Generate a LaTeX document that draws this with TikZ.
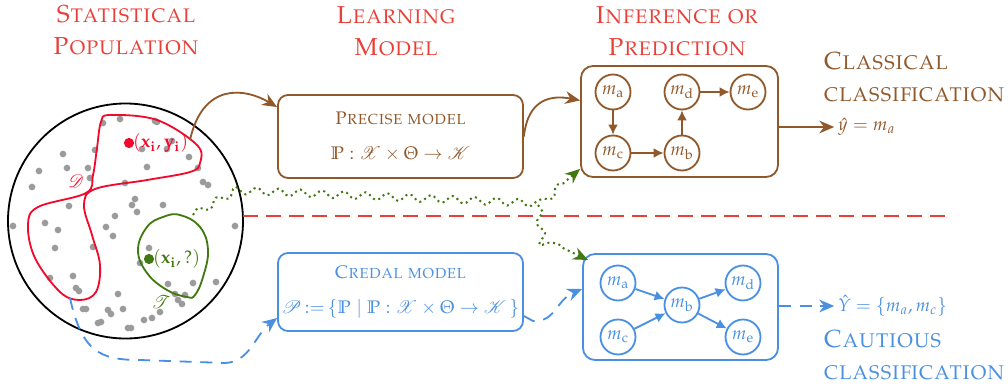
\documentclass[tikz,border=0pt]{standalone}
\usepackage[T1]{fontenc}
\usepackage{mathpazo}
\usepackage{mathrsfs}
\usepackage{xcolor}
\usetikzlibrary{arrows.meta, decorations.pathmorphing}
\definecolor{headred}{RGB}{232,64,56}
\definecolor{setred}{RGB}{242,10,45}
\definecolor{brownc}{RGB}{145,88,42}
\definecolor{bluec}{RGB}{74,144,226}
\definecolor{greenc}{RGB}{66,120,16}
\definecolor{dotgray}{RGB}{155,155,155}
\newcommand\pxu{0.55pt}
\tikzset{
  head/.style={text=headred, font=\fontsize{13.5}{17.6}\selectfont\scshape, align=center},
  outlbl/.style={font=\fontsize{13.6}{17.6}\selectfont\scshape, align=left, anchor=west},
  modelbox/.style={rectangle, rounded corners=5.5pt, line width=1pt, align=center, minimum width=245*\pxu},
  infbox/.style={rectangle, rounded corners=6.6pt, line width=1pt},
  mnode/.style={circle, line width=1pt, minimum size=35*\pxu, inner sep=0pt},
  marrow/.style={-{Latex[length=5.5pt, width=5.5pt]}, line width=1pt},
  bigtip/.style={-{Stealth[length=8.2pt, width=7pt]}, line width=1pt},
  sepline/.style={headred, line width=0.9pt, dash pattern=on 8.2pt off 4.4pt},
  bldash/.style={bluec, line width=1pt, dash pattern=on 6.6pt off 4.8pt},
  greenwave/.style={greenc, line width=1.1pt, dotted, decorate, decoration={snake, amplitude=2pt, segment length=12pt, post length=10pt}},
}
\begin{document}
\begin{tikzpicture}[x=\pxu, y=-\pxu]
  \useasboundingbox (0,0) rectangle (1008,390);
  % headings
  \node[head] (pop) at (126,30) {Statistical\\Population};
  \node[head] (learn) at (396,31) {Learning\\Model};
  \node[head] (infer) at (677,31) {Inference or\\Prediction};
  \node[outlbl, text=brownc] (classic) at (817,77) {Classical\\classification};
  \node[outlbl, text=bluec] (cautious) at (817,355) {Cautious\\classification};
  % population
  \node[circle, draw, line width=1pt, minimum size=235*\pxu, inner sep=0pt] (popc) at (125.5,221) {};
  \foreach \p in {(103,123),(120,119),(155,121),(157,122),(95,150),(63,154),(39,171),(67,168),
    (88,168),(90,178),(32,187),(125,183),(135,199),(132,205),(137,212),(163,205),(147,167),
    (142,149),(167,149),(172,141),(189,157),(198,168),(203,182),(208,185),(69,206),(115,216),
    (13,226),(45,223),(58,230),(106,227),(113,236),(235,226),(55,248),(93,247),(149,248),
    (140,263),(50,278),(73,276),(76,288),(79,291),(168,284),(193,283),(216,282),(118,294),
    (175,294),(185,295),(178,300),(182,304),(160,312),(83,309),(86,309),(108,310),(111,314),
    (123,309),(98,323),(101,322),(128,328),(131,328),(144,320),(152,318)}
    \fill[dotgray] \p circle (1.85pt);
  \draw[setred, line width=1pt] plot[smooth cycle, tension=0.6] coordinates {(110,115) (157,120) (197,145)
    (200,163) (190,172) (147,180) (95,189) (84,205) (92,235) (100,265) (96,292) (80,300)
    (60,292) (35,258) (28,225) (38,207) (86,193) (93,175) (97,148) (101,122)};
  \draw[greenc, line width=1pt] plot[smooth cycle, tension=0.7] coordinates {(180,215) (200,227) (208,250)
    (203,277) (195,295) (187,297) (167,290) (147,273) (138,250) (147,227) (163,217)};
  \fill[setred] (129,143) circle (2.8pt);
  \node[anchor=west, text=setred, inner sep=1pt] (xy) at (131,143) {$(\mathbf{x_i},\mathbf{y_i})$};
  \fill[greenc] (149,259) circle (2.8pt);
  \node[anchor=west, text=greenc, inner sep=1pt] (xq) at (151,259) {$(\mathbf{x_i},?)$};
  \node[text=setred] (dset) at (76,181) {$\mathscr{D}$};
  \node[text=greenc] (tset) at (161,302) {$\mathscr{T}$};
  \coordinate (dstart) at (190,140);
  \coordinate (tstart) at (193,215);
  \coordinate (cstart) at (70,298);
  % learning models
  \node[modelbox, draw=brownc, text=brownc, minimum height=83*\pxu] (precise) at (400.5,136.5)
    {\textsc{Precise model}\\[7pt] $\mathbb{P}:\mathscr{X}\times\Theta\to\mathscr{K}$};
  \node[modelbox, draw=bluec, text=bluec, minimum height=78*\pxu, inner xsep=1pt] (credal) at (400.5,292)
    {\textsc{Credal model}\\[7pt] $\mathscr{P}\,{:=}\,\{\mathbb{P}\;|\;\mathbb{P}:\mathscr{X}\times\Theta\to\mathscr{K}\,\}$};
  % inference, precise
  \node[infbox, draw=brownc, minimum width=197*\pxu, minimum height=111*\pxu] (ibox1) at (679.5,121.5) {};
  \begin{scope}[every node/.style={mnode, draw=brownc, text=brownc}]
    \node (pa) at (613,92) {$m_{\mathrm{a}}$};
    \node (pd) at (682,92) {$m_{\mathrm{d}}$};
    \node (pe) at (748,92) {$m_{\mathrm{e}}$};
    \node (pc) at (613,153) {$m_{\mathrm{c}}$};
    \node (pb) at (682,153) {$m_{\mathrm{b}}$};
  \end{scope}
  \draw[marrow, brownc] (pa) -- (pc);
  \draw[marrow, brownc] (pc) -- (pb);
  \draw[marrow, brownc] (pb) -- (pd);
  \draw[marrow, brownc] (pd) -- (pe);
  % inference, cautious
  \node[infbox, draw=bluec, minimum width=195*\pxu, minimum height=106*\pxu] (ibox2) at (680.5,307) {};
  \begin{scope}[every node/.style={mnode, draw=bluec, text=bluec}]
    \node (ca) at (618,283) {$m_{\mathrm{a}}$};
    \node (cc) at (618,337) {$m_{\mathrm{c}}$};
    \node (cb) at (682,305) {$m_{\mathrm{b}}$};
    \node (cd) at (743,283) {$m_{\mathrm{d}}$};
    \node (ce) at (743,337) {$m_{\mathrm{e}}$};
  \end{scope}
  \draw[marrow, bluec] (ca) -- (cb);
  \draw[marrow, bluec] (cc) -- (cb);
  \draw[marrow, bluec] (cb) -- (cd);
  \draw[marrow, bluec] (cb) -- (ce);
  % outputs
  \node[anchor=west, text=brownc, inner sep=1pt] (yhat) at (836,127) {$\hat{y}=m_a$};
  \node[anchor=west, text=bluec, inner sep=1pt] (Yhat) at (836,306) {$\hat{Y}=\{m_a,m_c\}$};
  \draw[bigtip, brownc] (ibox1.east |- yhat.west) -- ([xshift=-1pt]yhat.west);
  \draw[bigtip, bldash] (ibox2.east |- Yhat.west) -- ([xshift=-1pt]Yhat.west);
  % connectors
  \draw[bigtip, brownc] (dstart) .. controls (203,82) and (245,88) .. ([yshift=16.2pt]precise.west);
  \draw[bigtip, brownc] (precise.east) .. controls (528,98) and (552,95) .. ([yshift=11.6pt]ibox1.west);
  \draw[bigtip, bldash] (cstart) .. controls (82,352) and (100,360) .. (140,360)
    -- (225,363) .. controls (250,362) and (255,335) .. ([yshift=-14.3pt]credal.west);
  \draw[bigtip, bldash] ([yshift=-13.2pt]credal.east) -- (533,321) .. controls (556,322) and (556,300) .. ([yshift=9.9pt]ibox2.west);
  \coordinate (sepL) at (243,216);
  \coordinate (sepR) at (945,216);
  \draw[sepline] (sepL) -- (sepR);
  \coordinate (wsplit) at (538,205);
  \draw[greenwave, -{Stealth[length=8.2pt, width=7pt]}] (tstart) -- (233,192) -- (wsplit) -- (580,169);
  \draw[greenwave, -{Stealth[length=8.2pt, width=7pt]}] (wsplit) -- (542,238) -- (588,260);
\end{tikzpicture}
\end{document}
